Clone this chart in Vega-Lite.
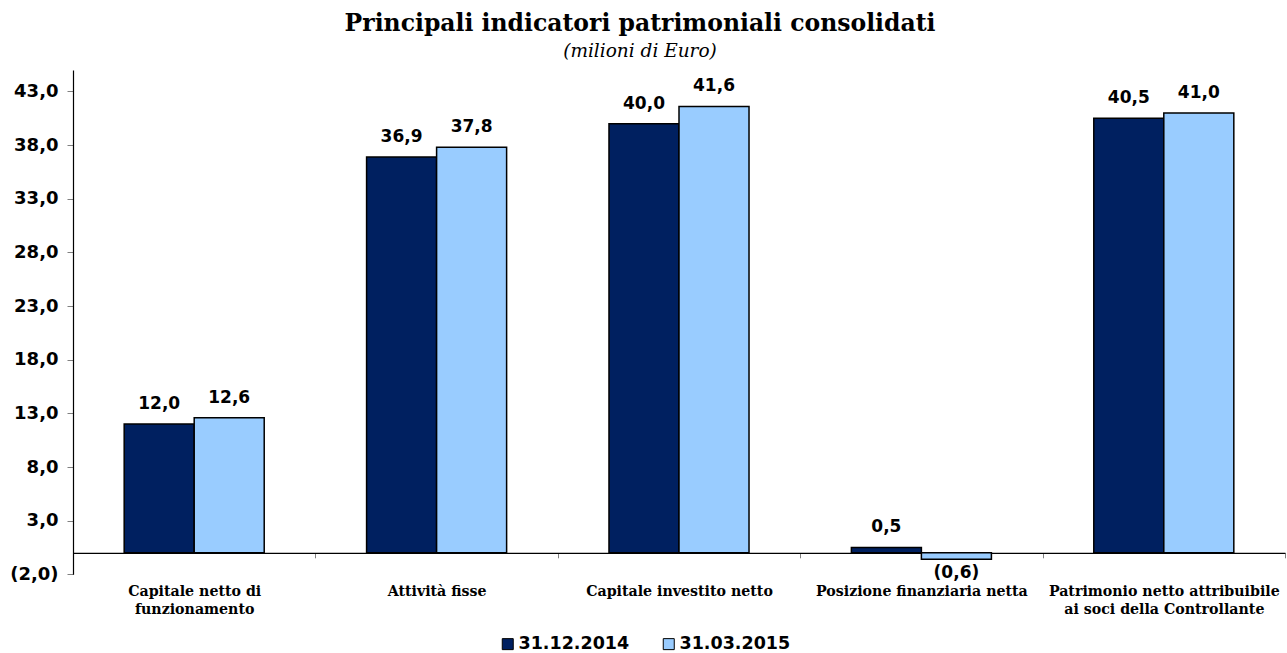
{
  "$schema": "https://vega.github.io/schema/vega-lite/v6.json",
  "autosize": "none",
  "width": 1212,
  "height": 504.3,
  "padding": {"left": 73, "top": 70, "right": 2, "bottom": 78.7},
  "background": "white",
  "config": {
    "locale": {"number": {"decimal": ",", "thousands": ".", "grouping": [3], "currency": ["€", ""]}},
    "view": {"stroke": null}
  },
  "title": {
    "text": "Principali indicatori patrimoniali consolidati",
    "subtitle": "(milioni di Euro)",
    "font": "DejaVu Serif",
    "fontSize": 23.5,
    "fontWeight": "bold",
    "color": "black",
    "subtitleFont": "DejaVu Serif",
    "subtitleFontStyle": "italic",
    "subtitleFontSize": 18.5,
    "subtitleColor": "black",
    "subtitlePadding": 6,
    "anchor": "middle",
    "dx": -39,
    "offset": 10
  },
  "data": {
    "values": [
      {"cat": "Capitale netto di funzionamento", "serie": "31.12.2014", "v": 12.0},
      {"cat": "Capitale netto di funzionamento", "serie": "31.03.2015", "v": 12.6},
      {"cat": "Attività fisse", "serie": "31.12.2014", "v": 36.9},
      {"cat": "Attività fisse", "serie": "31.03.2015", "v": 37.8},
      {"cat": "Capitale investito netto", "serie": "31.12.2014", "v": 40.0},
      {"cat": "Capitale investito netto", "serie": "31.03.2015", "v": 41.6},
      {"cat": "Posizione finanziaria netta", "serie": "31.12.2014", "v": 0.5},
      {"cat": "Posizione finanziaria netta", "serie": "31.03.2015", "v": -0.6},
      {"cat": "Patrimonio netto attribuibile ai soci della Controllante", "serie": "31.12.2014", "v": 40.5},
      {"cat": "Patrimonio netto attribuibile ai soci della Controllante", "serie": "31.03.2015", "v": 41.0}
    ]
  },
  "encoding": {
    "x": {
      "field": "cat",
      "type": "nominal",
      "sort": null,
      "scale": {"paddingInner": 0, "paddingOuter": 0},
      "axis": {
        "title": null,
        "labelAngle": 0,
        "labelFont": "DejaVu Serif",
        "labelFontWeight": "bold",
        "labelFontSize": 14.2,
        "labelColor": "black",
        "labelBaseline": "top",
        "labelLineHeight": 18,
        "labelPadding": 27,
        "labelLimit": 0,
        "labelExpr": "datum.value == 'Capitale netto di funzionamento' ? ['Capitale netto di', 'funzionamento'] : datum.value == 'Patrimonio netto attribuibile ai soci della Controllante' ? ['Patrimonio netto attribuibile', 'ai soci della Controllante'] : datum.value",
        "tickBand": "extent",
        "tickSize": 5,
        "tickColor": "#808080",
        "domainColor": "black",
        "domainWidth": 1.2,
        "offset": -21.5
      }
    },
    "xOffset": {
      "field": "serie",
      "type": "nominal",
      "sort": null,
      "scale": {"paddingInner": 0, "paddingOuter": 0.731}
    },
    "y": {
      "field": "v",
      "type": "quantitative",
      "scale": {"domain": [-2, 45], "nice": false, "zero": false},
      "axis": {
        "title": null,
        "values": [-2, 3, 8, 13, 18, 23, 28, 33, 38, 43],
        "format": "(.1f",
        "grid": false,
        "labelFont": "DejaVu Sans",
        "labelFontWeight": "bold",
        "labelFontSize": 18,
        "labelColor": "black",
        "labelPadding": 9,
        "tickSize": 6,
        "tickColor": "#808080",
        "domainColor": "black",
        "domainWidth": 1.2
      }
    }
  },
  "layer": [
    {
      "mark": {"type": "bar", "stroke": "black", "strokeWidth": 1.5},
      "encoding": {
        "color": {
          "field": "serie",
          "type": "nominal",
          "sort": null,
          "scale": {"domain": ["31.12.2014", "31.03.2015"], "range": ["#002060", "#99CCFF"]},
          "legend": {
            "title": null,
            "orient": "none",
            "direction": "horizontal",
            "legendX": 426,
            "legendY": 565,
            "symbolType": "square",
            "symbolSize": 121,
            "symbolStrokeColor": "black",
            "symbolStrokeWidth": 1,
            "labelFont": "DejaVu Sans",
            "labelFontWeight": "bold",
            "labelFontSize": 17.5,
            "labelColor": "black",
            "labelOffset": 2,
            "columnPadding": 30
          }
        }
      }
    },
    {
      "transform": [{"filter": "datum.v >= 0"}],
      "mark": {"type": "text", "font": "DejaVu Sans", "fontWeight": "bold", "fontSize": 17, "color": "black", "baseline": "middle", "dy": -20},
      "encoding": {
        "text": {"field": "v", "type": "quantitative", "format": "(.1f"}
      }
    },
    {
      "transform": [{"filter": "datum.v < 0"}],
      "mark": {"type": "text", "font": "DejaVu Sans", "fontWeight": "bold", "fontSize": 17, "color": "black", "baseline": "middle", "dy": 14},
      "encoding": {
        "text": {"field": "v", "type": "quantitative", "format": "(.1f"}
      }
    }
  ]
}
